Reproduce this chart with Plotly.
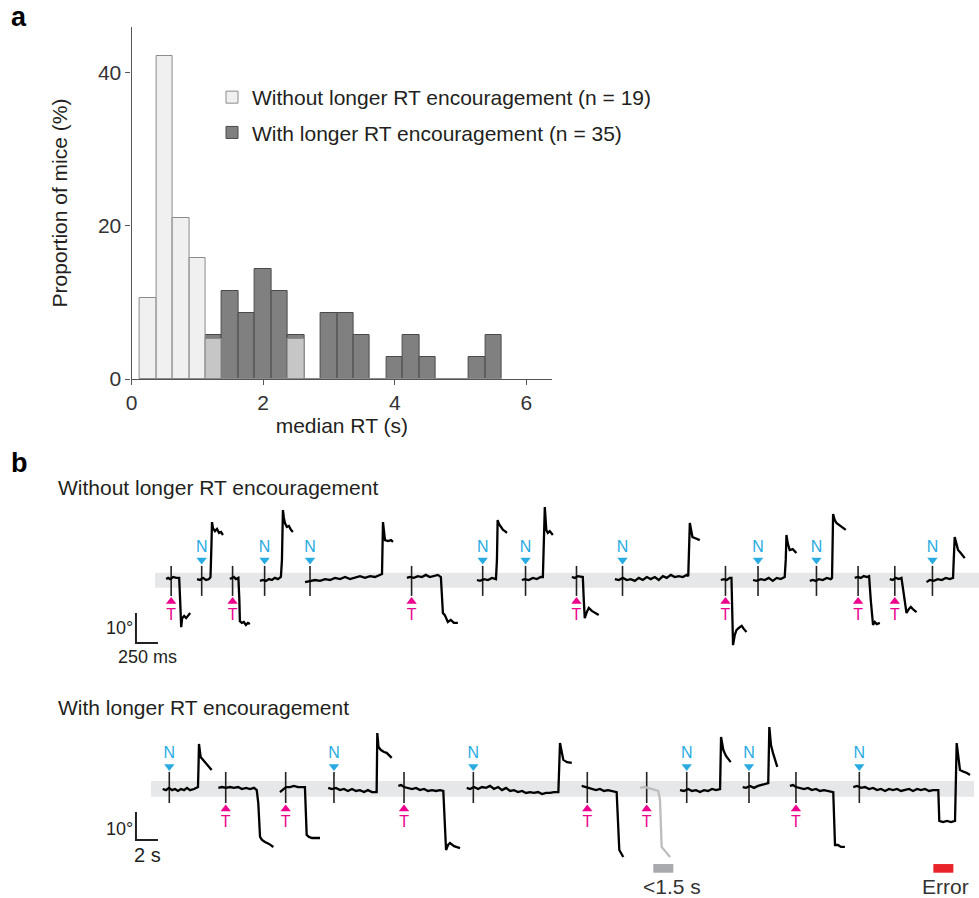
import plotly.graph_objects as go

# ---------------- Panel a data: histogram of median RT ----------------
bin_centers = [0.25, 0.5, 0.75, 1.0, 1.25, 1.5, 1.75, 2.0, 2.25, 2.5, 2.75,
               3.0, 3.25, 3.5, 3.75, 4.0, 4.25, 4.5, 4.75, 5.0, 5.25, 5.5]
pct_without = [10.53, 42.11, 21.05, 15.79, 5.26, 0, 0, 0, 0, 5.26, 0,
               0, 0, 0, 0, 0, 0, 0, 0, 0, 0, 0]          # n = 19
pct_with = [0, 0, 0, 0, 5.71, 11.43, 8.57, 14.29, 11.43, 5.71, 0,
            8.57, 8.57, 5.71, 0, 2.86, 5.71, 2.86, 0, 0, 2.86, 5.71]  # n = 35
bin_width = 0.25
x_ticks = [0, 2, 4, 6]
y_ticks = [0, 20, 40]
label_without = "Without longer RT encouragement (n = 19)"
label_with = "With longer RT encouragement (n = 35)"

# ---------------- Panel b data: example traces ----------------
# top row (without encouragement): time in ms, angle in degrees
top_kind = ['T', 'N', 'T', 'N', 'N', 'T', 'N', 'N', 'T', 'N', 'T', 'N', 'N', 'T', 'T', 'N']
top_onset_ms = [1945, 2292, 2643, 3007, 3523, 4677, 5485, 5972, 6551, 7074, 8244,
                8614, 9278, 9751, 10168, 10596]
top_t = [
    [-57, -34, -11, 23, 57, 91, 102, 114, 125, 148, 170, 193, 216],
    [-53, -19, 15, 49, 83, 100, 111, 117, 128, 151, 174, 197, 219, 242],
    [-31, -8, 15, 37, 66, 77, 83, 106, 128, 151, 174, 197],
    [-53, -19, 15, 49, 83, 117, 151, 185, 197, 208, 219, 231, 253, 276, 299, 321],
    [-57, 0, 57, 114, 170, 227, 284, 341, 398, 454, 511, 568, 625, 682, 738, 795, 818,
     829, 841, 852, 886, 920, 943],
    [-53, -19, 26, 72, 117, 162, 208, 253, 299, 333, 344, 356, 378, 412, 446, 481, 526],
    [-65, -31, 15, 60, 106, 151, 162, 170, 185, 208, 231, 253, 276],
    [-42, -8, 37, 83, 128, 174, 197, 208, 219, 236, 253, 276, 310],
    [-53, -19, 15, 49, 72, 83, 94, 117, 140, 174, 208, 253],
    [-87, -42, 3, 49, 94, 140, 185, 231, 276, 321, 367, 412, 458, 503, 549, 594, 640,
     685, 730, 747, 765, 776, 795, 821, 855, 878],
    [-53, -19, 15, 49, 68, 77, 86, 106, 125, 151, 185, 208, 239],
    [-57, -15, 31, 76, 122, 167, 212, 258, 303, 315, 323, 337, 360, 394, 436],
    [-76, -42, -8, 26, 72, 117, 162, 177, 189, 208, 227, 253, 287, 333],
    [-38, -3, 31, 65, 99, 125, 144, 170, 190, 212, 247],
    [-57, -23, 11, 45, 76, 102, 133, 159, 182, 216, 247],
    [-68, -31, 15, 60, 106, 151, 197, 234, 242, 253, 276, 291, 321, 367],
]
top_a = [
    [0.3, 0.7, 0.3, 1.0, 0.7, 0.7, -6.7, -15.7, -12.7, -12.0, -12.7, -11.7, -11.0],
    [0.3, 0, 0.7, 0, 0.3, 1.0, 11.7, 19.3, 17.3, 16.3, 17, 15.7, 16, 15],
    [0.3, 0.7, 1, 0.3, 0.7, -6.7, -13.7, -14.3, -14, -15, -14.3, -14.7],
    [-0.3, 0, -0.3, 0.3, 0, 0.7, 0.3, 1, 6.7, 23.3, 20.7, 19, 17.7, 18, 16.7, 16],
    [-0.7, -0.3, 0, -0.3, 0.3, 0, 0.7, 0.3, 1, 0.3, 0.7, 1.3, 0.7, 1.3, 1, 1.7, 2,
     19.3, 16.7, 13.3, 13, 13.3, 12.7],
    [0.7, 1, 0.7, 1.3, 1, 1.7, 1, 1.3, 1.7, 1, -3.3, -11, -11.7, -14, -13.3, -14.3, -14.3],
    [0, -0.3, 0.3, 0, 0.7, 0.3, 6.7, 20, 18.7, 17.7, 16.7, 16.3, 15.7],
    [0, 0.3, 0, 0.7, 0.3, 1, 1, 10, 24.3, 16.7, 15.7, 16.3, 15],
    [1, 0.7, 1.3, 1, 1, -6.7, -12.7, -10.7, -9.3, -10.3, -11, -11.7],
    [0.3, 0, 0.7, 0, 0.3, -0.3, 0.7, 0, 1, 0.3, 1, 0, 1.3, 0.7, 1.7, 1, 1.3, 1, 1.7,
     1.3, 19, 16.7, 14.3, 14, 13.7, 13.3],
    [0, 0.3, 0, 0.7, 0.7, -10, -21.7, -18.3, -16.7, -16, -15.3, -16.3, -17.3],
    [0, -0.3, 0.3, 0, 0.7, -0.3, 0.7, 0.3, 1, 6.7, 15, 12.3, 10, 10.3, 9],
    [-0.3, 0, -0.3, 0.3, 0, 0.7, 0.3, 0.7, 22, 20, 19, 18.3, 17.7, 16.7],
    [0.7, 1, 0.7, 1.3, 1, 1.3, -6.7, -15, -14, -14.7, -14.3],
    [0.3, 0, 0.7, 0.3, 0.7, -5, -11, -9.7, -9, -10, -10.7],
    [-0.7, 0, -0.3, 0.3, 0, 0.7, 0.3, 0.7, 6.7, 14.3, 11.7, 10, 9, 7.3],
]

# bottom row (with encouragement): time in s, angle in degrees
bot_kind = ['N', 'T', 'T', 'N', 'T', 'N', 'T', 'T', 'N', 'N', 'T', 'N']
bot_onset_s = [15.39, 20.52, 25.97, 30.36, 36.73, 43.03, 53.39, 58.79, 62.43, 68.09,
               72.36, 78.12]
bot_short_trial = 7          # trial with RT < 1.5 s (drawn grey)
bot_t = [
    [-0.60, -0.30, -0.03, 0.25, 0.52, 0.79, 1.06, 1.34, 1.61, 1.88, 2.25, 2.61, 2.67,
     2.70, 2.85, 3.06, 3.34, 3.61, 3.85],
    [-0.67, -0.34, 0.03, 0.39, 0.75, 1.12, 1.48, 1.85, 2.21, 2.57, 2.82, 2.96, 3.12,
     3.30, 3.57, 3.94, 4.33],
    [-0.52, -0.34, -0.15, 0.03, 0.39, 0.75, 1.12, 1.48, 1.75, 1.91, 2.12, 2.39, 2.75, 3.12],
    [-0.52, -0.18, 0.18, 0.55, 0.91, 1.27, 1.64, 2.0, 2.36, 2.73, 3.09, 3.45, 3.88, 3.94,
     4.05, 4.27, 4.55, 4.79, 5.25],
    [-0.52, -0.27, 0, 0.36, 0.73, 1.09, 1.45, 1.82, 2.18, 2.55, 2.91, 3.27, 3.57, 3.82,
     4.0, 4.18, 4.55, 5.09],
    [-0.60, -0.30, 0.06, 0.43, 0.79, 1.15, 1.52, 1.88, 2.25, 2.61, 2.97, 3.34, 3.70, 4.06,
     4.43, 4.79, 5.15, 5.52, 5.88, 6.25, 6.61, 6.97, 7.34, 7.73, 7.88, 8.18, 8.52, 8.95],
    [-0.51, -0.21, 0.06, 0.43, 0.79, 1.15, 1.52, 1.88, 2.25, 2.67, 2.91, 3.06, 3.27],
    [-0.61, -0.25, 0.12, 0.48, 0.85, 1.05, 1.21, 1.36, 1.66, 2.12],
    [-0.61, -0.25, 0.12, 0.48, 0.85, 1.21, 1.57, 1.94, 2.30, 2.66, 3.03, 3.12, 3.33, 3.57, 4.0],
    [-0.57, -0.27, 0.09, 0.45, 0.82, 1.18, 1.55, 1.75, 1.85, 2.0, 2.18, 2.36, 2.57],
    [-0.55, -0.27, 0, 0.36, 0.73, 1.09, 1.45, 1.82, 2.18, 2.55, 2.91, 3.39, 3.55, 3.82,
     4.09, 4.45],
    [-0.55, -0.21, 0.15, 0.52, 0.88, 1.25, 1.61, 1.97, 2.34, 2.70, 3.06, 3.43, 3.79, 4.15,
     4.52, 4.88, 5.25, 5.61, 5.97, 6.34, 6.70, 7.18, 7.27, 7.61, 7.97, 8.34, 8.70, 8.85,
     9.15, 9.52, 9.79, 10.06],
]
bot_a = [
    [0, -0.4, 0.4, -0.4, 0, -0.7, 0, -0.4, 0.4, -0.4, 0, 0.7, 10.4, 16.1, 11.4, 10.4, 8.9,
     7.9, 6.8],
    [0.4, 0.7, 0.4, 0.7, 0.4, 0.7, 0, 0.4, 0, 0.4, -0.4, -5, -17.1, -18.2, -18.9, -19.6, -20.7],
    [-1.1, -0.4, 0, 0.7, 0.7, 1.1, 0.7, 0.7, 0.7, -16.4, -17.1, -17.5, -17.5, -17.5],
    [0.4, 0, 0.4, -0.4, 0, -0.7, 0, -0.7, -0.4, -1.1, -0.4, -1.1, -1.1, 20, 15, 13.9, 13.2,
     12.9, 11.1],
    [1.1, 1.4, 0.7, 0.4, 0, 0.4, -0.4, 0, -0.7, -0.4, -0.7, -0.4, -0.7, -21.8, -20, -19.3,
     -20.4, -21.1],
    [0.4, 0, 0.7, 0, 0.7, 0.4, 1.1, 0, 0.7, -0.4, 0.4, -0.7, -0.4, -1.1, -0.7, -1.4, -1.1,
     -1.4, -1.1, -1.8, -1.4, -1.4, -1.1, -1.1, 16.4, 10.4, 9.6, 9.3],
    [1.1, 0.7, 0.4, 0, -0.4, 0, -0.7, -0.4, -0.7, -1.1, -21.8, -22.9, -24.3],
    [0.4, 0.7, 0.4, 0, -0.4, -0.7, -3.9, -20.7, -22.1, -24.3],
    [-0.4, -0.7, 0, -0.7, -0.4, -1.1, -0.4, -0.7, 0, -0.4, 0, 18.6, 13.9, 11.8, 9.6],
    [0.7, 0.4, 1.1, 0.4, 1.1, 1.4, 1.8, 2.1, 22.1, 15.7, 12.9, 10.4, 7.9],
    [1.1, 1.4, 0.7, 0.4, 0, 0.4, -0.4, 0, -0.7, -0.4, -0.7, -1.1, -20, -20, -20.7, -20.7],
    [0.7, 1.1, 0.4, 0.7, 0, 0.4, -0.4, 0, -0.7, 0, -0.4, 0, -0.7, -0.4, 0, -0.7, 0, -0.4,
     0, -0.7, -0.4, -0.4, -11.4, -11.8, -11.4, -11.8, -11.4, 16.4, 6.8, 6.1, 5.7, 5.0],
]
# time windows marked under the bottom row (s)
short_rt_window = [59.39, 61.21]
error_window = [84.85, 86.67]

# ---------------- styling ----------------
FONT = "Arial, Liberation Sans, Helvetica, sans-serif"
BLUE = "#29abe2"
PINK = "#ec008c"
W, H = 979, 898


def px(x):
    return x / W


def py(y):
    return 1 - y / H


fig = go.Figure()

# ---- panel a histogram ----
fig.add_trace(go.Bar(
    x=bin_centers, y=pct_with, width=bin_width, name=label_with,
    marker=dict(color="#808080", line=dict(color="#4a4a4a", width=1)),
    xaxis="x", yaxis="y", legendrank=2, legendgroup="b"))
fig.add_trace(go.Bar(
    x=bin_centers, y=pct_without, width=bin_width, name=label_without,
    marker=dict(color="rgba(233,233,233,0.67)", line=dict(color="#8c8c8c", width=1)),
    xaxis="x", yaxis="y", legendrank=1, legendgroup="a"))


def add_row(xa, ya, kinds, onsets, ts, angs, tick_span, n_tri, n_txt, t_tri, t_txt,
            grey_idx=None):
    bx, by, gx, gy = [], [], [], []
    for i, (o, t, a) in enumerate(zip(onsets, ts, angs)):
        xs = [o + v for v in t]
        if i == grey_idx:
            gx += xs + [None]
            gy += list(a) + [None]
        else:
            bx += xs + [None]
            by += list(a) + [None]
    # stimulus onset ticks
    tx, ty = [], []
    for o in onsets:
        tx += [o, o, None]
        ty += [tick_span[0], tick_span[1], None]
    fig.add_trace(go.Scatter(x=tx, y=ty, mode="lines", line=dict(color="#222", width=1.6),
                             xaxis=xa, yaxis=ya, showlegend=False, hoverinfo="skip"))
    if gx:
        fig.add_trace(go.Scatter(x=gx, y=gy, mode="lines",
                                 line=dict(color="#bdbdbd", width=2.3),
                                 xaxis=xa, yaxis=ya, showlegend=False, hoverinfo="skip"))
    fig.add_trace(go.Scatter(x=bx, y=by, mode="lines", line=dict(color="black", width=2.3),
                             xaxis=xa, yaxis=ya, showlegend=False, hoverinfo="skip"))
    n_on = [o for o, k in zip(onsets, kinds) if k == 'N']
    t_on = [o for o, k in zip(onsets, kinds) if k == 'T']
    fig.add_trace(go.Scatter(x=n_on, y=[n_tri] * len(n_on), mode="markers",
                             marker=dict(symbol="triangle-down", size=9, color=BLUE),
                             xaxis=xa, yaxis=ya, showlegend=False, hoverinfo="skip"))
    fig.add_trace(go.Scatter(x=t_on, y=[t_tri] * len(t_on), mode="markers",
                             marker=dict(symbol="triangle-up", size=9, color=PINK),
                             xaxis=xa, yaxis=ya, showlegend=False, hoverinfo="skip"))
    fig.add_trace(go.Scatter(x=n_on, y=[n_txt] * len(n_on), mode="text", text=["N"] * len(n_on),
                             textfont=dict(color=BLUE, size=16, family=FONT),
                             xaxis=xa, yaxis=ya, showlegend=False, hoverinfo="skip"))
    fig.add_trace(go.Scatter(x=t_on, y=[t_txt] * len(t_on), mode="text", text=["T"] * len(t_on),
                             textfont=dict(color=PINK, size=16, family=FONT),
                             xaxis=xa, yaxis=ya, showlegend=False, hoverinfo="skip"))


shapes = []
# grey baseline bands
shapes.append(dict(type="rect", xref="x2", yref="y2", x0=1761, x1=11125, y0=-2.6, y1=2.4,
                   fillcolor="#e6e7e8", line=dict(width=0), layer="below"))
shapes.append(dict(type="rect", xref="x3", yref="y3", x0=13.73, x1=88.55, y0=-2.8, y1=2.9,
                   fillcolor="#e6e7e8", line=dict(width=0), layer="below"))

add_row("x2", "y2", top_kind, top_onset_ms, top_t, top_a, (4.7, -5.3), 6.7, 10.8, -7.2, -12.0)
add_row("x3", "y3", bot_kind, bot_onset_s, bot_t, bot_a, (6.1, -5.0), 8.0, 12.6, -7.1, -12.0,
        grey_idx=bot_short_trial)

# scale bars
shapes.append(dict(type="path", xref="x2", yref="y2", path="M1545,-11 L1545,-21 L1795,-21",
                   line=dict(color="#222", width=2)))
shapes.append(dict(type="path", xref="x3", yref="y3", path="M12.36,-8.2 L12.36,-18.2 L14.36,-18.2",
                   line=dict(color="#222", width=2)))
# markers of time windows
shapes.append(dict(type="rect", xref="x3", yref="y3", x0=short_rt_window[0], x1=short_rt_window[1],
                   y0=-29.9, y1=-26.8, fillcolor="#a7a9ac", line=dict(width=0)))
shapes.append(dict(type="rect", xref="x3", yref="y3", x0=error_window[0], x1=error_window[1],
                   y0=-29.9, y1=-26.8, fillcolor="#e8242a", line=dict(width=0)))

ann = []
TXT = "#231f20"
ann.append(dict(text="<b>a</b>", x=px(9), y=py(17), xref="paper", yref="paper",
                xanchor="left", yanchor="middle", showarrow=False,
                font=dict(size=27, family=FONT, color="black")))
ann.append(dict(text="<b>b</b>", x=px(9), y=py(463), xref="paper", yref="paper",
                xanchor="left", yanchor="middle", showarrow=False,
                font=dict(size=27, family=FONT, color="black")))
ann.append(dict(text="Without longer RT encouragement", x=px(56), y=py(487), xref="paper",
                yref="paper", xanchor="left", yanchor="middle", showarrow=False,
                font=dict(size=21, family=FONT, color=TXT)))
ann.append(dict(text="With longer RT encouragement", x=px(56), y=py(707), xref="paper",
                yref="paper", xanchor="left", yanchor="middle", showarrow=False,
                font=dict(size=21, family=FONT, color=TXT)))
ann.append(dict(text="10°", x=1530, y=-16, xref="x2", yref="y2", xanchor="right",
                yanchor="middle", showarrow=False, font=dict(size=18, family=FONT, color=TXT)))
ann.append(dict(text="250 ms", x=1681, y=-25.5, xref="x2", yref="y2", xanchor="center",
                yanchor="middle", showarrow=False, font=dict(size=18, family=FONT, color=TXT)))
ann.append(dict(text="10°", x=12.25, y=-14.3, xref="x3", yref="y3", xanchor="right",
                yanchor="middle", showarrow=False, font=dict(size=18, family=FONT, color=TXT)))
ann.append(dict(text="2 s", x=13.41, y=-23.6, xref="x3", yref="y3", xanchor="center",
                yanchor="middle", showarrow=False, font=dict(size=20, family=FONT, color=TXT)))
ann.append(dict(text="<1.5 s", x=61.06, y=-34.9, xref="x3", yref="y3", xanchor="center",
                yanchor="middle", showarrow=False, font=dict(size=21, family=FONT, color="#333")))
ann.append(dict(text="Error", x=85.95, y=-34.9, xref="x3", yref="y3", xanchor="center",
                yanchor="middle", showarrow=False, font=dict(size=21, family=FONT, color="#333")))

axis_common = dict(showgrid=False, zeroline=False, showline=True, linecolor="#555",
                   linewidth=1.3, ticks="outside", ticklen=5, tickcolor="#555", tickwidth=1.3,
                   automargin=False,
                   tickfont=dict(size=21, family=FONT, color="#333"))
hidden = dict(visible=False, showgrid=False, zeroline=False, fixedrange=True, automargin=False)

fig.update_layout(
    width=W, height=H, margin=dict(l=0, r=0, t=0, b=0, autoexpand=False),
    paper_bgcolor="white", plot_bgcolor="rgba(0,0,0,0)",
    barmode="overlay", bargap=0, showlegend=True,
    font=dict(family=FONT, color=TXT),
    xaxis=dict(domain=[px(131.6), px(552)], range=[0, 6.39], tickvals=x_ticks,
               title=dict(text="median RT (s)", font=dict(size=21, family=FONT, color=TXT),
                          standoff=4),
               anchor="y", **axis_common),
    yaxis=dict(domain=[py(379), py(27)], range=[0, 45.9], tickvals=y_ticks,
               title=dict(text="Proportion of mice (%)", font=dict(size=21, family=FONT, color=TXT),
                          standoff=24),
               anchor="x", **axis_common),
    xaxis2=dict(domain=[0, 1], range=[0, 11125], anchor="y2", **hidden),
    yaxis2=dict(domain=[py(670), py(490)], range=[-30, 30], anchor="x2", **hidden),
    xaxis3=dict(domain=[0, 1], range=[0, 89.0], anchor="y3", **hidden),
    yaxis3=dict(domain=[0, py(710)], range=[(789 - 898) / 2.8, (789 - 710) / 2.8], anchor="x3",
                **hidden),
    legend=dict(x=px(212), y=py(77), xanchor="left", yanchor="top",
                font=dict(size=21, family=FONT, color=TXT), bgcolor="rgba(0,0,0,0)",
                traceorder="grouped", tracegroupgap=5, itemclick=False),
    shapes=shapes, annotations=ann,
)

fig.write_html("out.html")
